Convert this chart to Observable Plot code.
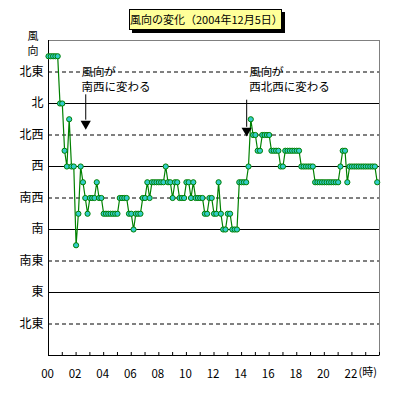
<!DOCTYPE html>
<html><head><meta charset="utf-8">
<script src="https://cdn.jsdelivr.net/npm/d3@7"></script>
<script src="https://cdn.jsdelivr.net/npm/@observablehq/plot@0.6"></script>
<style>
body{margin:0;background:#fff;}
#wrap{position:relative;width:399px;height:399px;font-family:"Noto Sans CJK JP","Noto Sans",sans-serif;}
#title{position:absolute;left:129px;top:9px;width:151px;height:19px;background:#ffff99;border:1px solid #000;box-shadow:3px 3px 0 #000;font-size:11px;line-height:19px;text-align:center;white-space:nowrap;color:#000;}
</style></head><body>
<div id="wrap"><div id="title">風向の変化（2004年12月5日）</div></div>
<script>
// Wind direction every 10 minutes, 16-point compass codes:
// 2=北東, 4=東, 6=南東, 8=南, 10=南西, 12=西, 14=北西, 16=北, 18=北東, 19=東北東 (wrapped)
const stepMinutes = 10;
const directions = [
  19,19,19,19,19,16,
  16,13,12,15,12,12,
  7,9,12,11,10,9,
  10,10,10,11,10,10,
  9,9,9,9,9,9,
  9,10,10,10,10,9,
  9,8,9,9,9,10,
  10,11,10,11,11,11,
  11,11,11,12,11,11,
  10,11,11,10,10,10,
  11,11,10,11,10,10,
  10,10,9,9,10,10,
  9,9,11,9,8,8,
  9,9,8,8,8,11,
  11,11,11,12,15,14,
  14,13,13,14,14,14,
  14,13,13,13,13,12,
  12,13,13,13,13,13,
  13,13,12,12,12,12,
  12,12,11,11,11,11,
  11,11,11,11,11,11,
  11,12,13,13,11,12,
  12,12,12,12,12,12,
  12,12,12,12,12,11
];
const yTickValues = [2,4,6,8,10,12,14,16,18];
const yTickLabels = ["北東","東","南東","南","南西","西","北西","北","北東"];
const solidLevels = [4,8,12,16];
const dashedLevels = [2,6,10,14,18];
const hourTicks = d3.range(0,25);
const xTickValues = [0,2,4,6,8,10,12,14,16,18,20,22];
const xTickLabels = ["00","02","04","06","08","10","12","14","16","18","20","22"];
const noteLine1 = ["風向が","風向が"];
const noteLine2 = ["南西に変わる","西北西に変わる"];
const noteHours = [2.4, 14.55];
const noteLevel1 = [18.0, 18.0];
const noteLevel2 = [17.05, 17.05];
const arrowHours = [2.7, 14.37];
const arrowFrom = [16.55, 16.21];
const arrowTo = [14.94, 14.49];
const arrowTip = [14.71, 14.28];

const data = directions.map((v,i)=>({hour: i*stepMinutes/60, dir: v}));
const notes1 = noteLine1.map((t,i)=>({x: noteHours[i], y: noteLevel1[i], text: t}));
const notes2 = noteLine2.map((t,i)=>({x: noteHours[i], y: noteLevel2[i], text: t}));
const arrows = arrowHours.map((x,i)=>({x, y1: arrowFrom[i], y2: arrowTo[i], tip: arrowTip[i]}));

const chart = Plot.plot({
  width: 399, height: 399,
  marginLeft: 48, marginRight: 20, marginTop: 40, marginBottom: 44,
  x: {domain: [0,24]},
  y: {domain: [0,20]},
  style: {fontFamily: '"Noto Sans CJK JP","Noto Sans",sans-serif', fontSize: "12px", background: "transparent", color: "#000"},
  marks: [
    Plot.ruleY(solidLevels, {stroke: "#000", strokeWidth: 1}),
    Plot.ruleY(dashedLevels, {stroke: "#000", strokeWidth: 1, strokeDasharray: "4,3"}),
    Plot.frame({stroke: "#808080"}),
    Plot.ruleX([0], {stroke: "#000"}),
    Plot.ruleY([0], {stroke: "#000"}),
    Plot.axisX({ticks: hourTicks, tickSize: -3, tickFormat: () => "", label: null, stroke: "#000"}),
    Plot.axisX({ticks: xTickValues, tickSize: 0, tickPadding: 14, fontSize: 11.5, dx: -1, tickFormat: d => xTickLabels[xTickValues.indexOf(d)], label: null}),
    Plot.axisY({ticks: yTickValues, tickSize: 0, tickPadding: 5, fontSize: 12, tickFormat: d => yTickLabels[yTickValues.indexOf(d)], label: null}),
    Plot.text(["風"], {frameAnchor: "top-left", dx: -15.5, dy: -8.5, textAnchor: "middle", fontSize: 11, fill: "#000"}),
    Plot.text(["向"], {frameAnchor: "top-left", dx: -15.5, dy: 6.5, textAnchor: "middle", fontSize: 11, fill: "#000"}),
    Plot.text(["(時)"], {frameAnchor: "bottom-right", dx: -21, dy: 20, textAnchor: "start", fontSize: 11, fill: "#000"}),
    Plot.line(data, {x: "hour", y: "dir", stroke: "#008000", strokeWidth: 1.2}),
    Plot.dot(data, {x: "hour", y: "dir", r: 2.6, fill: "#33cccc", stroke: "#008000", strokeWidth: 1}),
    Plot.text(notes1, {x: "x", y: "y", text: "text", textAnchor: "start", fontSize: 11.5, fill: "#000"}),
    Plot.text(notes2, {x: "x", y: "y", text: "text", textAnchor: "start", fontSize: 11.5, fill: "#000"}),
    Plot.ruleX(arrows, {x: "x", y1: "y1", y2: "y2", stroke: "#000", strokeWidth: 1}),
    Plot.dot(arrows, {x: "x", y: "tip", symbol: "triangle", rotate: 180, r: 3.8, fill: "#000", stroke: "none"})
  ]
});
document.getElementById("wrap").prepend(chart);
</script>
</body></html>
